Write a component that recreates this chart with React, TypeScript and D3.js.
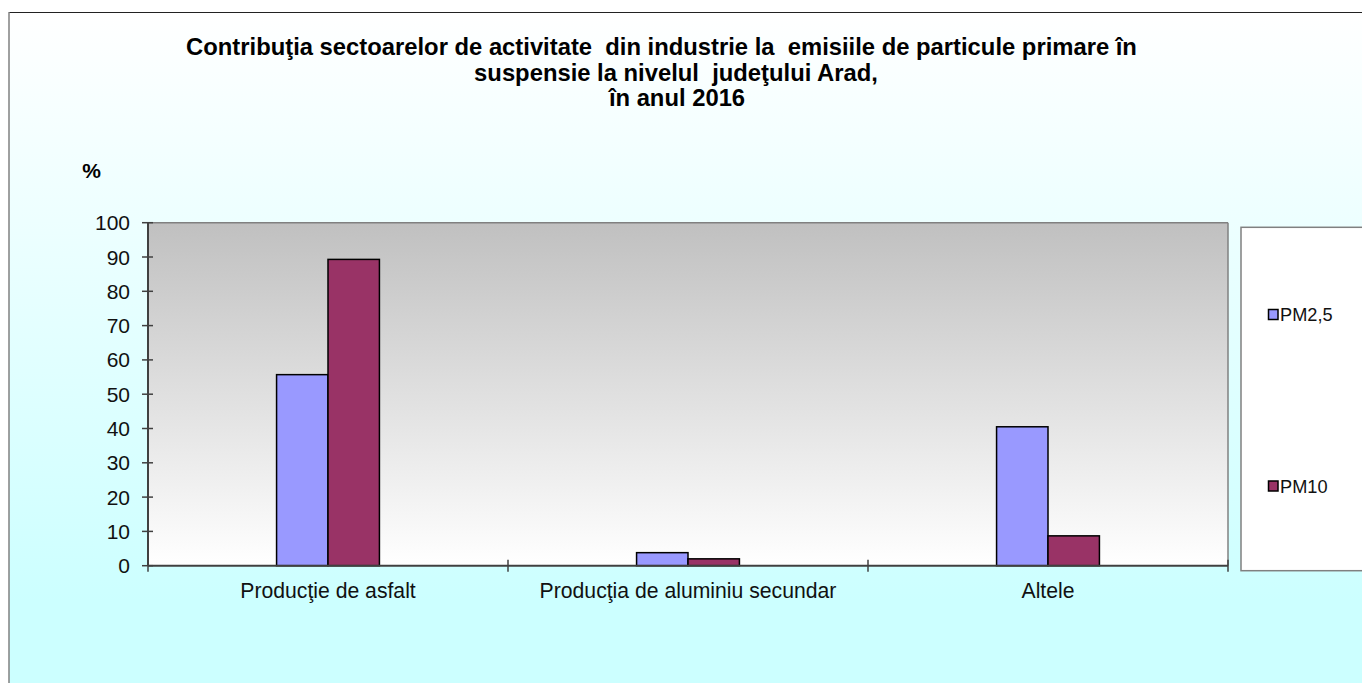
import React, { useEffect } from "react";
import * as d3 from "d3";

const categories = ["Producţie de asfalt", "Producţia de aluminiu secundar", "Altele"];
const seriesNames = ["PM2,5", "PM10"];
const pm25 = [55.7, 3.8, 40.5];
const pm10 = [89.3, 2.0, 8.7];
const yTicks = [0, 10, 20, 30, 40, 50, 60, 70, 80, 90, 100];
const titleLines = [
  "Contribuţia sectoarelor de activitate  din industrie la  emisiile de particule primare în",
  "suspensie la nivelul  judeţului Arad,",
  "în anul 2016",
];
const colors = ["#9999FF", "#993366"];

const W = 1362;
const H = 683;
const plot = { left: 148, right: 1228, top: 222.7, bottom: 565.7 };

export default function App() {
  useEffect(() => {
    document.body.style.margin = "0";
  }, []);

  const x0 = d3
    .scaleBand<string>()
    .domain(categories)
    .range([plot.left, plot.right])
    .paddingInner(5 / 7)
    .paddingOuter(2.5 / 7);
  const x1 = d3.scaleBand<string>().domain(seriesNames).range([0, x0.bandwidth()]);
  const y = d3.scaleLinear().domain([0, 100]).range([plot.bottom, plot.top]);
  const step = x0.step();
  const values = [pm25, pm10];
  const font = "Arial, 'Liberation Sans', sans-serif";

  return (
    <svg width={W} height={H} style={{ display: "block" }} fontFamily={font}>
      <defs>
        <linearGradient id="bg" x1="0" y1="0" x2="0" y2="1">
          <stop offset="0" stopColor="#ffffff" />
          <stop offset="1" stopColor="#ccffff" />
        </linearGradient>
        <linearGradient id="plotbg" x1="0" y1="0" x2="0" y2="1">
          <stop offset="0" stopColor="#c0c0c0" />
          <stop offset="1" stopColor="#ffffff" />
        </linearGradient>
      </defs>
      <rect x={0} y={0} width={W} height={H} fill="#ffffff" />
      <rect x={9} y={12} width={W} height={590} fill="url(#bg)" />
      <rect x={9} y={600} width={W} height={H - 600} fill="#ccffff" />
      <line x1={9} y1={12.5} x2={W} y2={12.5} stroke="#222" strokeWidth={1} />
      <line x1={9} y1={12} x2={9} y2={H} stroke="#808080" strokeWidth={1.5} />

      {titleLines.map((t, i) => (
        <text
          key={i}
          x={[661.5, 676, 677][i]}
          y={55 + i * 25.5}
          textAnchor="middle"
          fontWeight="bold"
          fontSize={23.8}
          fill="#000"
          xmlSpace="preserve"
          style={{ whiteSpace: "pre" }}
        >
          {t}
        </text>
      ))}
      <text x={91.5} y={177.5} textAnchor="middle" fontWeight="bold" fontSize={21}>
        %
      </text>

      <rect
        x={plot.left}
        y={plot.top}
        width={plot.right - plot.left}
        height={plot.bottom - plot.top}
        fill="url(#plotbg)"
      />
      <line x1={plot.left} y1={plot.top} x2={plot.right} y2={plot.top} stroke="#808080" strokeWidth={1.5} />
      <line x1={plot.right} y1={plot.top} x2={plot.right} y2={plot.bottom} stroke="#808080" strokeWidth={1.5} />

      {categories.map((c, ci) =>
        seriesNames.map((s, si) => {
          const v = values[si][ci];
          return (
            <rect
              key={c + s}
              x={(x0(c) as number) + (x1(s) as number)}
              y={y(v)}
              width={x1.bandwidth()}
              height={y(0) - y(v)}
              fill={colors[si]}
              stroke="#000"
              strokeWidth={1.5}
            />
          );
        })
      )}

      <line x1={plot.left} y1={plot.top} x2={plot.left} y2={plot.bottom} stroke="#404040" strokeWidth={2} />
      <line x1={plot.left} y1={plot.bottom} x2={plot.right} y2={plot.bottom} stroke="#404040" strokeWidth={2} />

      {yTicks.map((t) => (
        <g key={t}>
          <line x1={142} x2={153} y1={y(t)} y2={y(t)} stroke="#404040" strokeWidth={1.5} />
          <text x={130} y={y(t)} dy="0.36em" textAnchor="end" fontSize={21} fill="#111">
            {t}
          </text>
        </g>
      ))}
      {d3.range(categories.length + 1).map((i) => (
        <line
          key={i}
          x1={plot.left + i * step}
          x2={plot.left + i * step}
          y1={plot.bottom - 6}
          y2={plot.bottom + 6}
          stroke="#404040"
          strokeWidth={1.5}
        />
      ))}
      {categories.map((c) => (
        <text
          key={c}
          x={(x0(c) as number) + x0.bandwidth() / 2}
          y={598}
          textAnchor="middle"
          fontSize={21.2}
          fill="#111"
        >
          {c}
        </text>
      ))}

      <rect x={1241} y={227.3} width={140} height={343.4} fill="#ffffff" stroke="#808080" strokeWidth={1.5} />
      {seriesNames.map((s, i) => (
        <g key={s}>
          <rect
            x={1268.5}
            y={[309.5, 481][i]}
            width={9.5}
            height={10}
            fill={colors[i]}
            stroke="#000"
            strokeWidth={1.5}
          />
          <text x={1280} y={[321, 492.5][i]} fontSize={18.2} fill="#111">
            {s}
          </text>
        </g>
      ))}
    </svg>
  );
}
